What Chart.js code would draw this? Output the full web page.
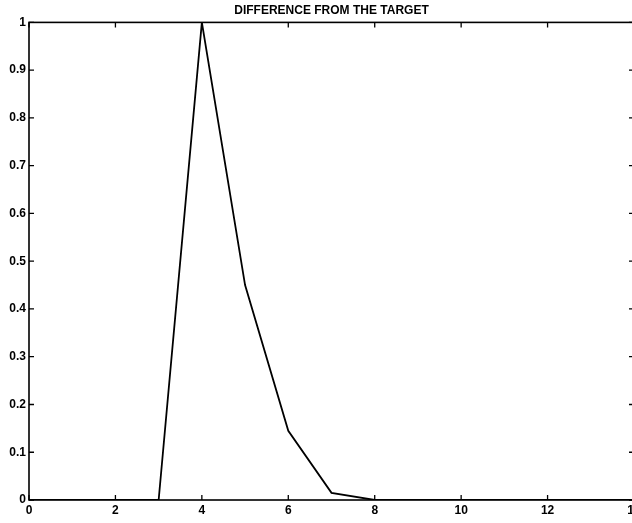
<!DOCTYPE html>
<html>
<head>
<meta charset="utf-8">
<script src="https://cdn.jsdelivr.net/npm/chart.js@4"></script>
<style>
  html, body { margin: 0; padding: 0; background: #fff; overflow: hidden; }
  #wrap { width: 632px; height: 523px; overflow: hidden; }
</style>
</head>
<body>
<div id="wrap"><canvas id="chart" width="660" height="523"></canvas></div>
<script>
// Difference from the target - single black line, MATLAB-style boxed axes
const titleText = 'DIFFERENCE FROM THE TARGET';
const xValues = [0, 1, 2, 3, 4, 5, 6, 7, 8, 9, 10, 11, 12, 13, 14];
const difference = [0, 0, 0, 0, 1, 0.45, 0.145, 0.015, 0, 0, 0, 0, 0, 0, 0];
const xTicks = [0, 2, 4, 6, 8, 10, 12, 14];
const yTicks = [0, 0.1, 0.2, 0.3, 0.4, 0.5, 0.6, 0.7, 0.8, 0.9, 1];

const points = xValues.map((x, i) => ({ x: x, y: difference[i] }));
const FONT = 'Liberation Sans, Arial, Helvetica, sans-serif';

// box round the plot and inward ticks on all four sides
const boxTicks = {
  id: 'boxTicks',
  afterDraw(chart) {
    const { ctx, chartArea: a, scales } = chart;
    ctx.save();
    ctx.strokeStyle = '#000';
    ctx.lineWidth = 1.6;
    ctx.strokeRect(a.left, a.top, a.right - a.left, a.bottom - a.top);
    ctx.lineWidth = 1.3;
    ctx.beginPath();
    xTicks.forEach(v => {
      const px = scales.x.getPixelForValue(v);
      ctx.moveTo(px, a.bottom); ctx.lineTo(px, a.bottom - 5);
      ctx.moveTo(px, a.top); ctx.lineTo(px, a.top + 5);
    });
    yTicks.forEach(v => {
      const py = scales.y.getPixelForValue(v);
      ctx.moveTo(a.left, py); ctx.lineTo(a.left + 5, py);
      ctx.moveTo(a.right, py); ctx.lineTo(a.right - 5, py);
    });
    ctx.stroke();
    ctx.restore();
  }
};

new Chart(document.getElementById('chart'), {
  type: 'line',
  data: {
    datasets: [{
      label: 'difference',
      data: points,
      borderColor: '#000',
      borderWidth: 1.8,
      pointRadius: 0,
      tension: 0,
      fill: false
    }]
  },
  options: {
    responsive: false,
    animation: false,
    devicePixelRatio: 1,
    layout: { padding: { left: 0, right: 26, top: 0, bottom: 0 } },
    plugins: {
      legend: { display: false },
      tooltip: { enabled: false },
      title: {
        display: true,
        fullSize: false,
        text: titleText,
        color: '#000',
        font: { family: FONT, size: 12, weight: 'bold' },
        padding: { top: 3, bottom: 5 }
      }
    },
    scales: {
      x: {
        type: 'linear',
        min: 0, max: 14,
        afterFit(s) { s.height = 23; },
        afterBuildTicks(s) { s.ticks = xTicks.map(v => ({ value: v })); },
        grid: { display: false, drawTicks: false, tickLength: 0 },
        border: { display: false },
        ticks: {
          color: '#000',
          padding: 3,
          autoSkip: false,
          maxRotation: 0,
          font: { family: FONT, size: 12, weight: 'bold' },
          callback: v => String(v)
        }
      },
      y: {
        min: 0, max: 1,
        afterFit(s) { s.width = 29; },
        afterBuildTicks(s) { s.ticks = yTicks.map(v => ({ value: v })); },
        grid: { display: false, drawTicks: false, tickLength: 0 },
        border: { display: false },
        ticks: {
          color: '#000',
          padding: 3,
          autoSkip: false,
          font: { family: FONT, size: 12, weight: 'bold' },
          callback: v => String(Math.round(v * 10) / 10)
        }
      }
    }
  },
  plugins: [boxTicks]
});
</script>
</body>
</html>
